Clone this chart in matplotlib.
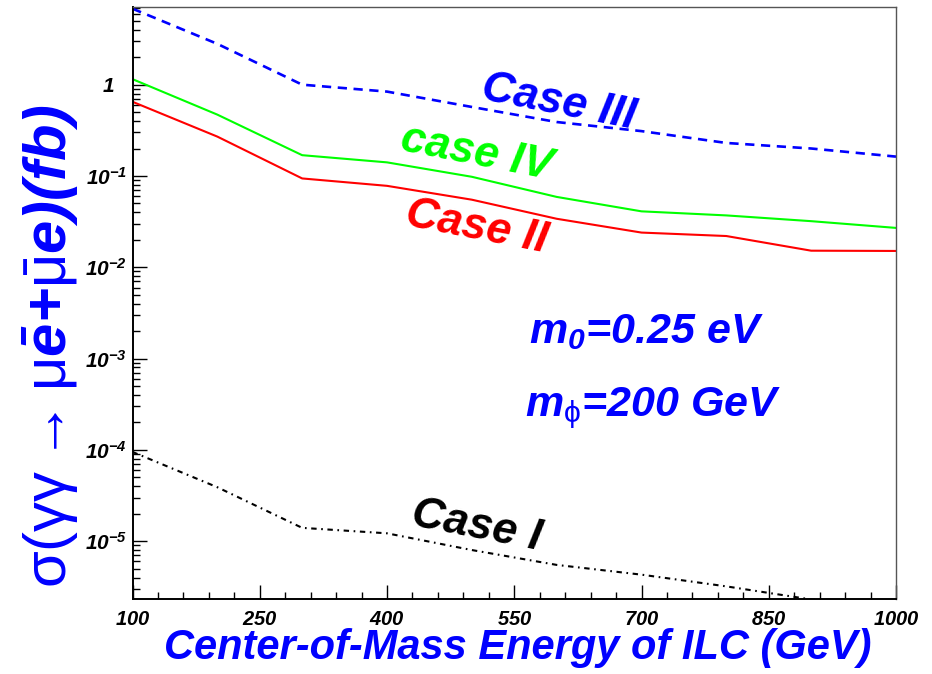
import math
import matplotlib
matplotlib.use("Agg")
import matplotlib.pyplot as plt
from matplotlib.transforms import ScaledTranslation
from matplotlib.ticker import FixedLocator, FuncFormatter, LogLocator, NullFormatter

# Cross sections sigma(gamma gamma -> mu e) in fb versus ILC centre-of-mass energy
energy = [100, 200, 300, 400, 500, 600, 700, 800, 900, 1000]
case_i = [9.5e-5, 3.9e-5, 1.4e-5, 1.22e-5, 8.0e-6, 5.5e-6, 4.3e-6, 3.2e-6, 2.3e-6, 2.2e-6]
case_ii = [0.65, 0.27, 0.094, 0.078, 0.055, 0.034, 0.024, 0.022, 0.0152, 0.0151]
case_iii = [6.8, 2.8, 1.0, 0.84, 0.57, 0.39, 0.31, 0.23, 0.20, 0.163]
case_iv = [1.15, 0.47, 0.169, 0.141, 0.098, 0.059, 0.041, 0.037, 0.032, 0.027]

x_ticks = [100, 250, 400, 550, 700, 850, 1000]
y_decades = [1e-5, 1e-4, 1e-3, 1e-2, 1e-1, 1]

BLUE = "#0000ff"
GREEN = "#00ff00"
RED = "#ff0000"
FONT = "Liberation Sans"

plt.rcParams["font.family"] = [FONT, "DejaVu Sans"]
plt.rcParams["mathtext.fontset"] = "custom"
plt.rcParams["mathtext.rm"] = "Liberation Sans"
plt.rcParams["mathtext.it"] = "Liberation Sans:italic:bold"
plt.rcParams["mathtext.bf"] = "Liberation Sans:italic:bold"
plt.rcParams["mathtext.sf"] = "Liberation Sans"

W, H = 932, 674
fig = plt.figure(figsize=(W / 100, H / 100), dpi=100)
fig.patch.set_facecolor("white")

left, right, top, bottom = 132.5, 896.0, 7.3, 599.3
ax = fig.add_axes([left / W, 1 - bottom / H, (right - left) / W, (bottom - top) / H])

ax.plot(energy, case_iii, color=BLUE, lw=1.9, linestyle=(0, (3.5, 2.5)))
ax.plot(energy, case_iv, color=GREEN, lw=1.5)
ax.plot(energy, case_ii, color=RED, lw=1.5)
ax.plot(energy, case_i, color="black", lw=1.5, linestyle=(0, (2.6, 2.2, 0.8, 2.2)))

ax.set_xlim(100, 1000)
ax.set_yscale("log")
ax.set_ylim(2.31e-6, 7.04)

ax.xaxis.set_major_locator(FixedLocator(x_ticks))
ax.xaxis.set_minor_locator(FixedLocator(list(range(100, 1001, 30))))
ax.yaxis.set_major_locator(FixedLocator(y_decades))
ax.yaxis.set_minor_locator(LogLocator(base=10, subs=range(2, 10), numticks=20))
ax.yaxis.set_minor_formatter(NullFormatter())


def ylab(v, pos):
    e = int(round(math.log10(v)))
    if e == 0:
        return r"$\mathbf{1}$"
    return r"$\mathbf{10^{%d}}$" % e


ax.yaxis.set_major_formatter(FuncFormatter(ylab))
ax.xaxis.set_major_formatter(FuncFormatter(lambda v, p: r"$\mathbf{%d}$" % v))

ax.tick_params(axis="both", which="both", direction="in", top=False, right=False,
               color="black", width=1.0)
ax.tick_params(axis="both", which="major", length=10)
ax.tick_params(axis="both", which="minor", length=5)
ax.tick_params(axis="x", which="major", labelsize=14.5, pad=8)
ax.tick_params(axis="y", which="major", labelsize=15, pad=4)

for s in ("left", "bottom"):
    ax.spines[s].set_linewidth(1.4)
    ax.spines[s].set_color("black")
for s in ("top", "right"):
    ax.spines[s].set_linewidth(1.0)
    ax.spines[s].set_color("#555555")

# the plain "1" label sits further left than the power-of-ten labels
fig.canvas.draw()
for tick in ax.yaxis.get_major_ticks():
    if abs(tick.get_loc() - 1.0) < 1e-9:
        tick.label1.set_transform(tick.label1.get_transform()
                                  + ScaledTranslation(-0.12, 0, fig.dpi_scale_trans))


def ftext(x, y, s, **kw):
    fig.text(x / W, 1 - y / H, s, **kw)


bi = dict(fontweight="bold", fontstyle="italic", family=FONT)

ftext(518, 648, "Center-of-Mass Energy of ILC (GeV)", color=BLUE, fontsize=30,
      ha="center", va="center", **bi)

ftext(51, 346,
      r"$\mathrm{\sigma(\gamma\gamma\rightarrow\mu}\mathbf{\bar{e}}$+"
      r"$\mathrm{\bar{\mu}}$e)(fb)",
      color=BLUE, fontsize=43, rotation=90, ha="center", va="center", **bi)

ftext(646, 332, r"m$_\mathbf{0}$=0.25 eV", color=BLUE, fontsize=31,
      ha="center", va="center", **bi)
ftext(653, 408, r"m$_{\mathrm{\phi}}$=200 GeV", color=BLUE,
      fontsize=31, ha="center", va="center", **bi)

ftext(559, 103, "Case III", color=BLUE, fontsize=32, rotation=-11,
      rotation_mode="anchor", ha="center", va="center", **bi)
ftext(476, 153, "case IV", color=GREEN, fontsize=32, rotation=-11,
      rotation_mode="anchor", ha="center", va="center", **bi)
ftext(477, 227, "Case II", color=RED, fontsize=32, rotation=-11,
      rotation_mode="anchor", ha="center", va="center", **bi)
ftext(477, 526, "Case I", color="black", fontsize=32, rotation=-11,
      rotation_mode="anchor", ha="center", va="center", **bi)

fig.savefig("out.png", dpi=100)
